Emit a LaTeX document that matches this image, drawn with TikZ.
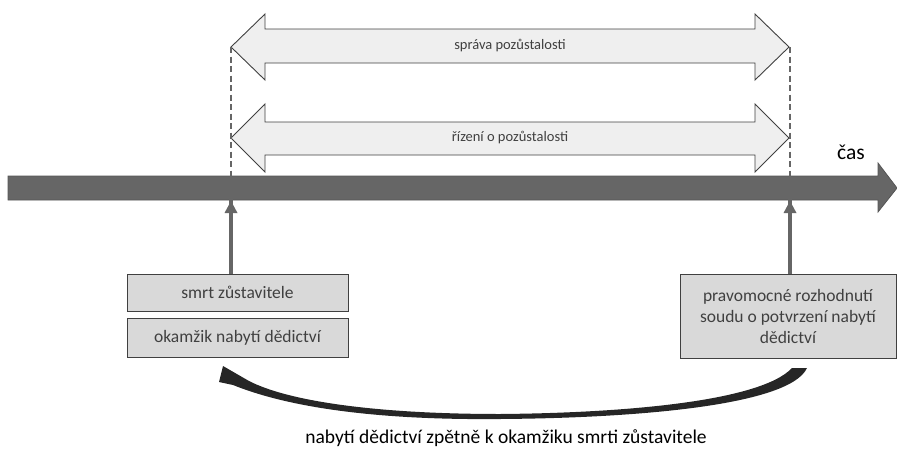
\documentclass[tikz,border=0pt]{standalone}
\usepackage{fontspec}
\setmainfont{Carlito}
\definecolor{txt}{HTML}{404040}
\definecolor{bar}{HTML}{666666}
\definecolor{barline}{HTML}{555555}
\definecolor{lightfill}{HTML}{EFEFEF}
\definecolor{boxfill}{HTML}{D9D9D9}
\definecolor{edge}{HTML}{404040}
\definecolor{curve}{HTML}{262626}
\begin{document}
\begin{tikzpicture}[x=1pt,y=-1pt,
  bigarrow/.style={fill=lightfill,draw=edge,line width=0.9pt,line join=miter},
  boxstyle/.style={fill=boxfill,draw=edge,line width=1pt,inner sep=0pt,text=txt,font=\fontsize{17.5}{21}\selectfont,align=center},
  arrowlabel/.style={text=txt,font=\fontsize{14.5}{16}\selectfont},
  dashline/.style={draw=bar,line width=2.4pt,dash pattern=on 6pt off 3.5pt},
  uparrow/.style={draw=bar,line width=4pt},
  tiphead/.style={fill=bar}
]
\useasboundingbox (0,0) rectangle (897,453);
% timeline
\fill[bar,draw=barline,line width=0.8pt] (8,176) -- (878,176) -- (878,163) -- (897,188) -- (878,212) -- (878,200) -- (8,200) -- cycle;
\node[anchor=center,font=\fontsize{21.5}{23}\selectfont] (cas) at (851,152) {čas};
% double arrows
\draw[bigarrow] (231,47) -- (265,14) -- (265,29) -- (755,29) -- (755,14) -- (789,47) -- (755,80) -- (755,63) -- (265,63) -- (265,80) -- cycle;
\node[arrowlabel] (sprava) at (510,46) {správa pozůstalosti};
\draw[bigarrow] (231,138) -- (265,104) -- (265,122) -- (755,122) -- (755,104) -- (789,138) -- (755,172) -- (755,155) -- (265,155) -- (265,172) -- cycle;
\node[arrowlabel] (rizeni) at (510,138) {řízení o pozůstalosti};
% dashed lines
\coordinate (dl1) at (231,47);
\coordinate (dl2) at (231,200);
\coordinate (dr1) at (790,47);
\coordinate (dr2) at (790,200);
\draw[dashline] (dl1) -- (dl2);
\draw[dashline] (dr1) -- (dr2);
% boxes
\node[boxstyle,minimum width=221pt,minimum height=37pt] (smrt) at (237.5,292.5) {smrt zůstavitele};
\node[boxstyle,minimum width=221pt,minimum height=39pt] (okamzik) at (237.5,337.5) {okamžik nabytí dědictví};
\node[boxstyle,minimum width=216pt,minimum height=84pt] (pravo) at (788,316) {pravomocné rozhodnutí\\soudu o potvrzení nabytí\\dědictví};
% up arrows
\coordinate (tl) at (231,201);
\coordinate (tr) at (790,201);
\draw[uparrow] (smrt.north -| tl) -- ([yshift=10pt]tl);
\fill[tiphead] (tl) -- (237.5,213) -- (224.5,213) -- cycle;
\draw[uparrow] (pravo.north -| tr) -- ([yshift=10pt]tr);
\fill[tiphead] (tr) -- (796.5,213) -- (783.5,213) -- cycle;
% curved arrow
\fill[curve] (792,368) .. controls (760,402) and (620,413) .. (500,414)
  .. controls (380,414) and (290,402) .. (249,381)
  -- (223,366) -- (219,382) -- (233,385)
  .. controls (300,412) and (400,420) .. (500,419)
  .. controls (640,418) and (790,405) .. (807,368) -- cycle;
\node[font=\fontsize{19.5}{21}\selectfont,text=black] (label) at (506,438) {nabytí dědictví zpětně k okamžiku smrti zůstavitele};
\end{tikzpicture}
\end{document}
